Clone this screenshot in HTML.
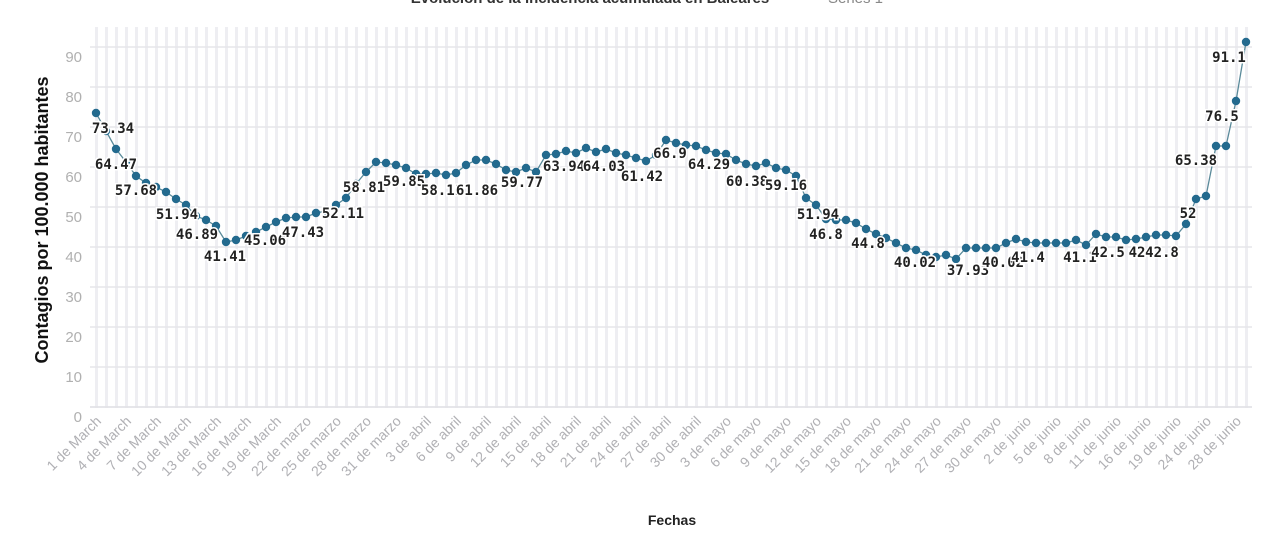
<!DOCTYPE html>
<html><head><meta charset="utf-8"><style>
body{margin:0;background:#fff;}
svg{display:block;font-family:"Liberation Sans",sans-serif;}
</style></head><body>
<svg id="s" width="1280" height="548" xmlns="http://www.w3.org/2000/svg">
<text x="590" y="3" text-anchor="middle" font-size="15" font-weight="bold" fill="#333">Evolución de la incidencia acumulada en Baleares</text>
<line x1="810" y1="-2" x2="822" y2="-2" stroke="#999"/>
<text x="828" y="3" font-size="15" fill="#888">Series 1</text>
<g id="grid"></g>
<g id="ylab" font-size="15" fill="#b0b0b0" text-anchor="end"></g>
<text transform="translate(48,220) rotate(-90)" text-anchor="middle" font-size="18" font-weight="bold" fill="#111">Contagios por 100.000 habitantes</text>
<g id="xlab" font-size="14" fill="#b0b0b4"></g>
<text x="672" y="525" text-anchor="middle" font-size="14" font-weight="bold" fill="#222">Fechas</text>
<g id="series"></g>
<g id="labels" font-family="'DejaVu Sans Mono','Liberation Mono',monospace" font-size="14" font-weight="bold" fill="#222" text-anchor="middle"></g>
</svg>
<script>
const NS="http://www.w3.org/2000/svg";
function el(p,t,a,txt){const e=document.createElementNS(NS,t);for(const k in a)e.setAttribute(k,a[k]);if(txt!==undefined)e.textContent=txt;document.getElementById(p).appendChild(e);return e;}
for(let x=96;x<=1246;x+=10){el("grid","rect",{x:x-1,y:27,width:3,height:381,fill:"#eeeef2"});}
for(let k=0;k<10;k++){const y=47+40*k;el("grid","line",{x1:90,x2:1252,y1:y,y2:y,stroke:"#e6e6ea","stroke-width":1.5});el("ylab","text",{x:82,y:y+15},String(90-10*k));}
el("grid","line",{x1:90,x2:1252,y1:407,y2:407,stroke:"#e2e2e6","stroke-width":1.5});
const lbls=["1 de March","4 de March","7 de March","10 de March","13 de March","16 de March","19 de March","22 de marzo","25 de marzo","28 de marzo","31 de marzo","3 de abril","6 de abril","9 de abril","12 de abril","15 de abril","18 de abril","21 de abril","24 de abril","27 de abril","30 de abril","3 de mayo","6 de mayo","9 de mayo","12 de mayo","15 de mayo","18 de mayo","21 de mayo","24 de mayo","27 de mayo","30 de mayo","2 de junio","5 de junio","8 de junio","11 de junio","16 de junio","19 de junio","24 de junio","28 de junio"];
lbls.forEach((t,i)=>{const x=102+30*i;el("xlab","text",{x:x,y:422,"text-anchor":"end",transform:`rotate(-45 ${x} 422)`},t);});
const ys=[113,131,149,162,176,183,187,192,199,205,216,220,226,242,240,236,232,227,222,218,217,217,213,211,205,198,184,172,162,163,165,168,174,174,173,175,173,165,160,160,164,170,172,168,172,155,154,151,153,148,152,149,153,155,158,161,155,148,140,143,145,146,150,153,154,160,164,166,163,168,170,176,198,205,219,220,220,223,229,234,238,243,248,250,255,257,255,259,248,248,248,248,243,239,242,243,243,243,243,240,245,234,237,237,240,239,237,235,235,236,224,199,196,146,146,101,42];
const yy=ys.slice();yy.splice(57,1);
const pts=[];
for(let i=0;i<116;i++)pts.push([96+10*i,yy[i]]);
el("series","polyline",{points:pts.map(p=>p.join(",")).join(" "),fill:"none",stroke:"#5a8a9a","stroke-width":1.3});
pts.forEach(p=>el("series","circle",{cx:p[0],cy:p[1],r:4.2,fill:"#236a8e"}));
const L=[["73.34",113,128],["64.47",116,164],["57.68",136,190],["51.94",177,214],["46.89",197,234],["41.41",225,256],["45.06",265,240],["47.43",303,232],["52.11",343,213],["58.81",364,187],["59.85",404,181],["58.11",442,190],["61.86",477,190],["59.77",522,182],["63.94",564,166],["64.03",604,166],["61.42",642,176],["66.9",670,153],["64.29",709,164],["60.38",747,181],["59.16",786,185],["51.94",818,214],["46.8",826,234],["44.8",868,243],["40.02",915,262],["37.93",968,270],["40.02",1003,262],["41.4",1028,257],["41.1",1080,257],["42.5",1108,252],["42",1137,252],["42.8",1162,252],["52",1188,213],["65.38",1196,160],["76.5",1222,116],["91.1",1229,57]];
L.forEach(l=>{el("labels","text",{x:l[1],y:l[2]+5,stroke:"#fff","stroke-width":3,"paint-order":"stroke"},l[0]);});
</script>
</body></html>
